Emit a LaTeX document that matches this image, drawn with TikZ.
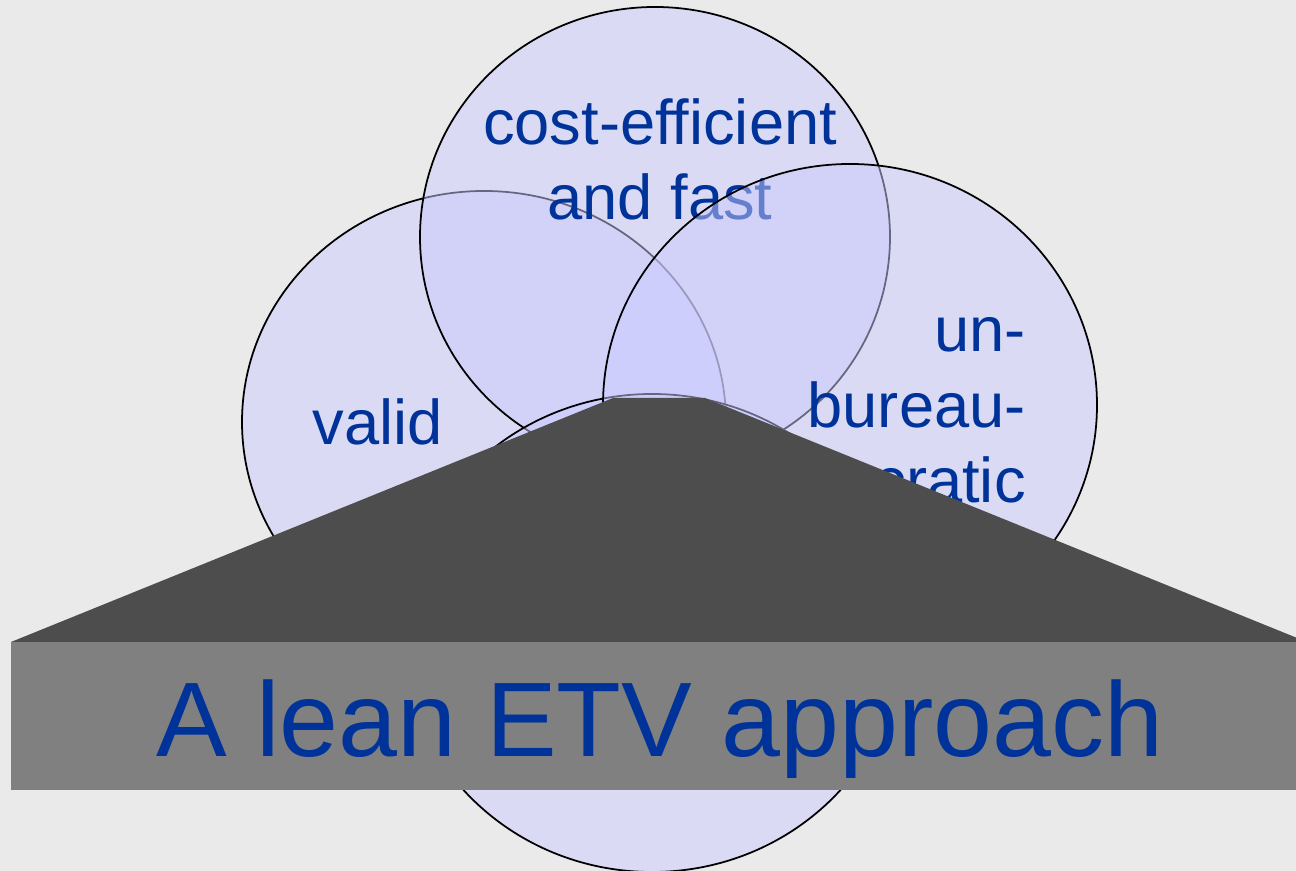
\documentclass[tikz,border=0pt]{standalone}
\usepackage{fontspec}
\setmainfont{Liberation Sans}
\definecolor{etvblue}{HTML}{003399}
\definecolor{vennfill}{HTML}{CCCCFF}
\definecolor{backgray}{HTML}{EAEAEA}
\definecolor{lidgray}{HTML}{4D4D4D}
\definecolor{boxgray}{HTML}{808080}
\tikzset{
  circ/.style={draw=black, line width=1pt, fill=vennfill, fill opacity=0.5},
  word/.style={text=etvblue, inner sep=0pt, font=\fontsize{36}{43.2}\selectfont},
  bigword/.style={text=etvblue, inner sep=0pt, font=\fontsize{60.3}{72}\selectfont},
}
\begin{document}
\begin{tikzpicture}[x=0.02cm, y=0.02cm]
    \useasboundingbox (0,0) rectangle (1296,871);
    \fill[backgray] (0,0) rectangle (1296,871);
    \clip (0,0) rectangle (1296,871);
    \path[circ] (484,449) ellipse [x radius=242, y radius=231];
    \node[word, anchor=base] (valid) at (378,426) {valid};
    \path[circ] (655,634) ellipse [x radius=235, y radius=230];
    \node[word, anchor=base, align=center] (cost) at (660,651) {cost-efficient\\and fast};
    \path[circ] (652,238) ellipse [x radius=250, y radius=239];
    \path[circ] (850,466) ellipse [x radius=247, y radius=241];
    \node[word, anchor=base east, align=right] (unbur) at (1026,368) {un-\\bureau-\\cratic};
    \fill[lidgray] (11,229) -- (613,473) -- (705,473) -- (1307,229) -- cycle;
    \fill[boxgray] (11,81) rectangle (1307,229);
    \node[bigword, anchor=base] (lean) at (660,114) {A lean ETV approach};
\end{tikzpicture}
\end{document}
